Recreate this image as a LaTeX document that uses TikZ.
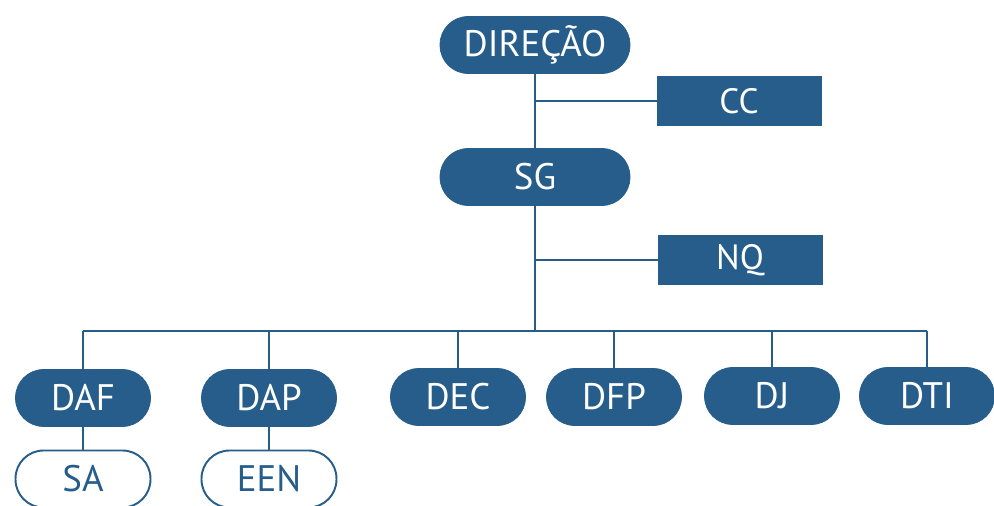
\documentclass[tikz,border=0pt]{standalone}
\usepackage{fontspec}
\setmainfont{PT Sans}
\usetikzlibrary{positioning}
\definecolor{orgblue}{RGB}{38,93,138}

\begin{document}
\begin{tikzpicture}[x=0.02cm,y=-0.02cm,
 pill/.style={draw=orgblue,fill=orgblue,text=white,rounded corners=0.56cm,minimum width=2.7cm,minimum height=1.14cm,inner sep=0pt,font=\fontsize{21}{24}\selectfont},
 bigpill/.style={pill,minimum width=3.8cm},
 boxunit/.style={draw=orgblue,fill=orgblue,text=white,minimum width=3.28cm,minimum height=0.98cm,inner sep=0pt,font=\fontsize{20}{24}\selectfont},
 openpill/.style={pill,fill=white,text=orgblue,line width=1.1pt},
 link/.style={orgblue,line width=1.1pt}]
 \useasboundingbox (0,0) rectangle (994,506);
 % top of the chart
 \node[bigpill] (dir) at (535,45) {DIREÇÃO};
 \node[boxunit] (cc) at (739,101) {CC};
 \node[bigpill] (sg) at (535,177) {SG};
 \node[boxunit] (nq) at (740,260) {NQ};
 % directorates
 \node[pill] (daf) at (83,398) {DAF};
 \node[pill] (dap) at (269,398) {DAP};
 \node[pill] (dec) at (458,397) {DEC};
 \node[pill] (dfp) at (614,397) {DFP};
 \node[pill] (dj) at (772,396) {DJ};
 \node[pill] (dti) at (927,396) {DTI};
 \node[openpill] (sa) at (83,479) {SA};
 \node[openpill] (een) at (269,479) {EEN};
 \coordinate (bus) at (535,331);
 % connectors
 \draw[link] (dir) -- (sg);
 \draw[link] (cc.west) -- (dir.south |- cc.west);
 \draw[link] (sg) -- (bus);
 \draw[link] (nq.west) -- (sg.south |- nq.west);
 \draw[link] (daf.north |- bus) -- (dti.north |- bus);
 \foreach \d in {daf,dap,dec,dfp,dj,dti}
  \draw[link] (\d) -- (\d.north |- bus);
 \draw[link] (daf) -- (sa);
 \draw[link] (dap) -- (een);
\end{tikzpicture}
\end{document}
